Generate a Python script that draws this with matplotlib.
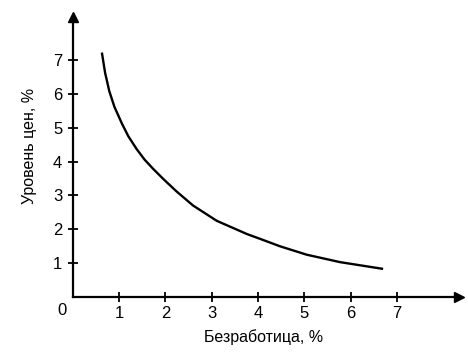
import matplotlib
matplotlib.use("Agg")
import matplotlib.pyplot as plt

unemployment = [0.63, 0.70, 0.79, 0.90, 1.06, 1.20, 1.38, 1.55, 1.74, 1.96, 2.24, 2.60, 3.11,
                3.76, 4.04, 4.47, 5.05, 5.77, 6.70]
price_level = [7.22, 6.62, 6.08, 5.62, 5.13, 4.75, 4.37, 4.06, 3.78, 3.48, 3.12, 2.70, 2.25,
               1.86, 1.72, 1.50, 1.25, 1.03, 0.83]
x_ticks = [1, 2, 3, 4, 5, 6, 7]
y_ticks = [1, 2, 3, 4, 5, 6, 7]
x_label = "Безработица, %"
y_label = "Уровень цен, %"

plt.rcParams['font.family'] = ['Liberation Sans', 'DejaVu Sans']

fig = plt.figure(figsize=(4.68, 3.54), dpi=100)
ax = fig.add_axes([0.1553, 0.161, 0.981 - 0.1553, 0.952 - 0.161])
ax.set_xlim(0, 8.34)
ax.set_ylim(0, 8.27)

ax.plot(unemployment, price_level, color='black', lw=1.7, solid_capstyle='butt',
        solid_joinstyle='round')

for s in ['top', 'right']:
    ax.spines[s].set_visible(False)
for s in ['left', 'bottom']:
    ax.spines[s].set_linewidth(1.6)
    ax.spines[s].set_position(('data', 0))

ax.plot(1, 0, '>', color='black', ms=7, transform=ax.get_yaxis_transform(), clip_on=False)
ax.plot(0, 1, '^', color='black', ms=7, transform=ax.get_xaxis_transform(), clip_on=False)

ax.set_xticks(x_ticks)
ax.set_yticks(y_ticks)
ax.tick_params(direction='inout', length=7, width=1.3, labelsize=12, colors='black')
ax.tick_params(axis='x', pad=3)
ax.tick_params(axis='y', pad=4)
ax.text(-0.12, -0.18, "0", ha='right', va='top', fontsize=12)

fig.text(264 / 468, 1 - 337 / 354, x_label, ha='center', va='center', fontsize=11.5)
fig.text(30 / 468, 1 - 146 / 354, y_label, ha='center', va='center', fontsize=11.5, rotation=90)

fig.savefig("out.png", dpi=100)
